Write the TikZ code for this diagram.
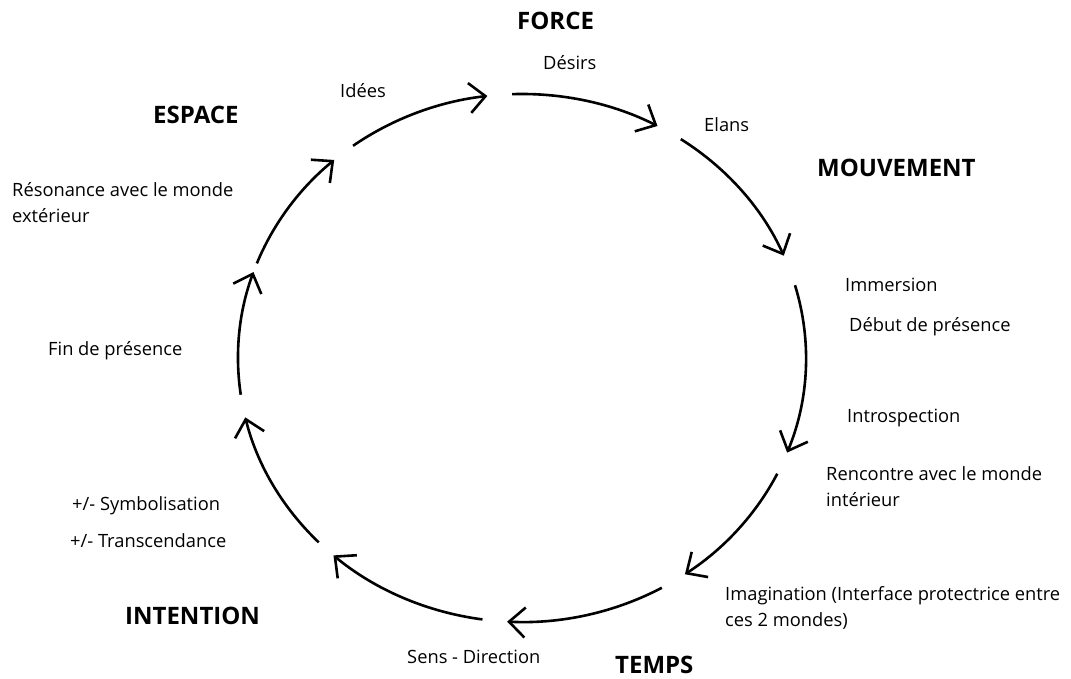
\documentclass[tikz,border=0pt]{standalone}
\usepackage{fontspec}
\setmainfont{Open Sans}
\usetikzlibrary{arrows.meta}

\tikzset{
  lbl/.style={anchor=west, inner sep=0pt, font=\fontsize{18.3}{26}\selectfont, align=left},
  pole/.style={anchor=west, inner sep=0pt, font=\fontsize{24}{30}\selectfont\bfseries},
  cyc/.style={line width=2.6pt, -{Straight Barb[length=16pt,width=30pt,line width=2.6pt]}}
}

\begin{document}
\begin{tikzpicture}[x=1pt,y=1pt]
  \useasboundingbox (0,0) rectangle (1071,679);
  \coordinate (ctr) at (522,321);

  % the ten arcs of the cycle, clockwise
  \foreach \a/\b in {92/61.5, 56/22.8, 16/-21, -26/-55, -60.5/-93, -98/-131.6, -135.7/-167, -172/-199, 159/131.4, 126.5/97}
    \draw[cyc] (ctr) ++(\a:284 and 264) arc[start angle=\a, end angle=\b, x radius=284, y radius=264];

  % poles
  \node[pole] (force) at (517,658) {FORCE};
  \node[pole] (mouv) at (817,511) {MOUVEMENT};
  \node[pole] (temps) at (615,14) {TEMPS};
  \node[pole] (intent) at (125,63) {INTENTION};
  \node[pole] (espace) at (153,564) {ESPACE};

  % stages
  \node[lbl] (desirs) at (543,616) {Désirs};
  \node[lbl] (elans) at (704,554) {Elans};
  \node[lbl] (immers) at (845,394) {Immersion};
  \node[lbl] (debut) at (849,352) {Début de présence};
  \node[lbl] (intro) at (847,261) {Introspection};
  \node[lbl] (rencontre) at (826,192) {Rencontre avec le monde\\intérieur};
  \node[lbl] (imag) at (725,71) {Imagination (Interface protectrice entre\\ces 2 mondes)};
  \node[lbl] (sens) at (407,22) {Sens - Direction};
  \node[lbl] (symb) at (72,173) {+/- Symbolisation};
  \node[lbl] (transc) at (70,138) {+/- Transcendance};
  \node[lbl] (fin) at (48,328) {Fin de présence};
  \node[lbl] (reson) at (12,476) {Résonance avec le monde\\extérieur};
  \node[lbl] (idees) at (340,588) {Idées};
\end{tikzpicture}
\end{document}
